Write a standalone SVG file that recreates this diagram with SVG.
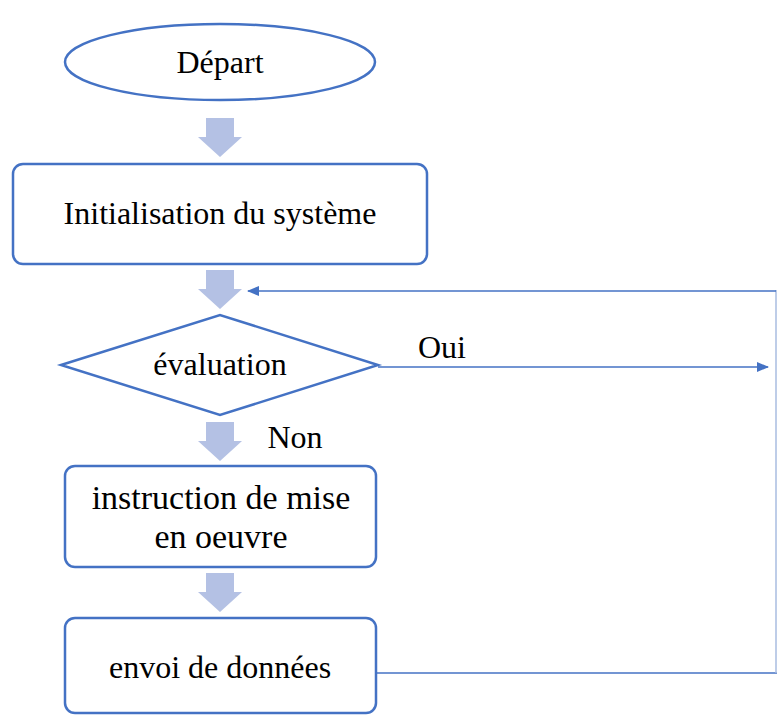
<svg xmlns="http://www.w3.org/2000/svg" width="777" height="717" viewBox="0 0 777 717">
<style>
.node{fill:#fff;stroke:#4472C4;stroke-width:2.5}
.lbl{font-family:"Liberation Serif","Times New Roman",serif;font-size:32px;fill:#000;text-anchor:middle;dominant-baseline:central}
.big{font-size:34px}
.blk{fill:#B4C1E4}
.con{fill:none;stroke:#4472C4;stroke-width:1.5}
</style>
<defs>
<marker id="ah" markerWidth="12" markerHeight="10" refX="11" refY="5" orient="auto" markerUnits="userSpaceOnUse">
<path d="M0,0 L12,5 L0,10 Z" fill="#4472C4"/>
</marker>
<path id="barrow" d="M-14,0 H14 V19 H22 L0,39 L-22,19 H-14 Z"/>
</defs>
<g id="connectors">
<use href="#barrow" class="blk" x="220" y="118"/>
<use href="#barrow" class="blk" x="220" y="270"/>
<use href="#barrow" class="blk" x="220" y="422"/>
<use href="#barrow" class="blk" x="220" y="573"/>
<path class="con" d="M378,367 H768" marker-end="url(#ah)"/>
<path class="con" d="M376,673 H777"/>
<path d="M776,290 V673" fill="none" stroke="#A9BCE0" stroke-width="1.5"/>
<path class="con" d="M776,291 H248" marker-end="url(#ah)"/>
<text class="lbl" x="442" y="347">Oui</text>
<text class="lbl" x="295" y="437">Non</text>
</g>
<g id="depart">
<ellipse class="node" cx="220" cy="62" rx="155" ry="38"/>
<text class="lbl" x="220" y="62">Départ</text>
</g>
<g id="init">
<rect class="node" x="13" y="164" width="414" height="100" rx="10"/>
<text class="lbl" x="220" y="213">Initialisation du système</text>
</g>
<g id="evaluation">
<polygon class="node" points="61,365 220,315 378,365 220,415"/>
<text class="lbl" x="220" y="364">évaluation</text>
</g>
<g id="instruction">
<rect class="node" x="65" y="466" width="311" height="101" rx="10"/>
<text class="lbl big" x="221" y="497">instruction de mise</text>
<text class="lbl big" x="221" y="536">en oeuvre</text>
</g>
<g id="envoi">
<rect class="node" x="65" y="618" width="311" height="95" rx="10"/>
<text class="lbl" x="220" y="667">envoi de données</text>
</g>
</svg>
